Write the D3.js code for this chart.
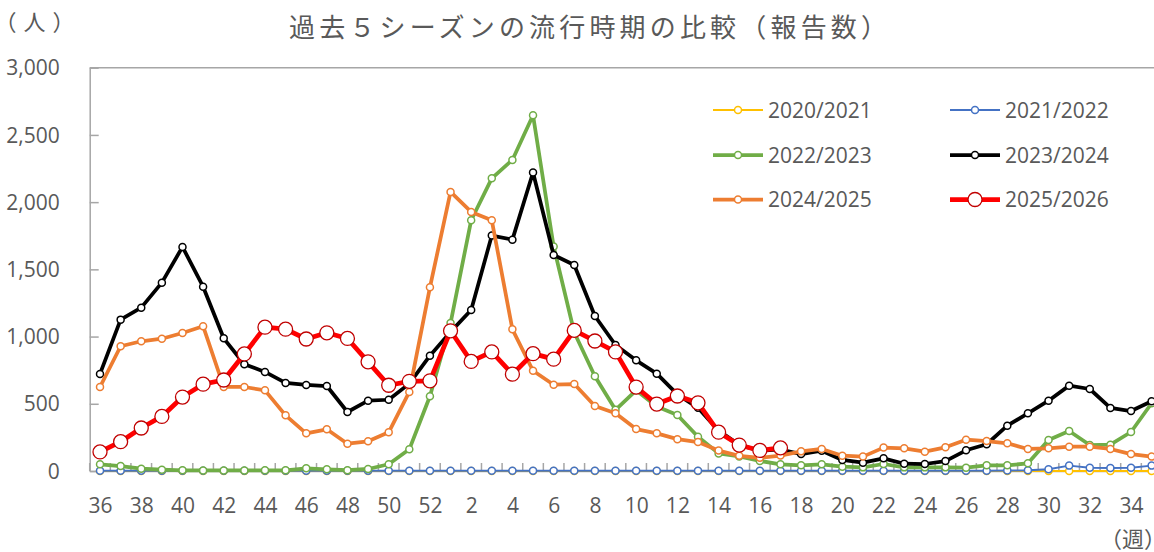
<!DOCTYPE html>
<html><head><meta charset="utf-8">
<script src="https://cdn.jsdelivr.net/npm/d3@7"></script>
<style>
html,body{margin:0;padding:0;background:#fff;overflow:hidden}
svg{display:block}
</style></head>
<body><svg id="c" width="1154" height="552"></svg>
<script>
const weeks = [36,37,38,39,40,41,42,43,44,45,46,47,48,49,50,51,52,1,2,3,4,5,6,7,8,9,10,11,12,13,14,15,16,17,18,19,20,21,22,23,24,25,26,27,28,29,30,31,32,33,34,35];
const tickWeeks = [36,38,40,42,44,46,48,50,52,2,4,6,8,10,12,14,16,18,20,22,24,26,28,30,32,34];
const yTicks = [0,500,1000,1500,2000,2500,3000];
const seriesNames = ["2020/2021","2021/2022","2022/2023","2023/2024","2024/2025","2025/2026"];

const s2020 = [0,0,0,0,0,0,0,0,0,0,0,0,0,0,0,0,0,0,0,0,0,0,0,0,0,0,0,0,0,0,0,0,0,0,0,0,0,0,0,0,0,0,0,0,0,0,0,0,0,0,0,0];
const s2021 = [1,1,1,1,1,1,1,1,1,1,1,1,1,1,1,1,1,1,1,1,1,1,1,1,1,1,1,1,1,1,1,1,1,1,2,2,2,2,2,2,2,2,2,2,3,6,13,40,25,22,25,40];
const s2022 = [50,37,17,10,5,4,4,4,5,5,20,13,6,15,50,161,556,1100,1865,2177,2314,2646,1670,1030,705,455,600,480,417,255,131,108,75,50,42,50,32,27,52,27,27,27,25,42,42,57,231,298,193,196,290,504];
const s2023 = [722,1126,1215,1401,1667,1371,987,794,737,655,640,632,439,523,530,650,858,1035,1198,1751,1721,2220,1607,1532,1153,937,823,724,570,470,300,195,150,160,126,151,82,62,94,54,52,74,154,199,337,429,523,635,610,469,446,519];
const s2024 = [625,928,965,984,1027,1077,625,625,600,414,280,310,203,221,288,588,1366,2076,1927,1865,1054,746,642,647,484,429,312,280,237,215,152,113,98,115,146,164,114,107,174,169,144,176,233,223,206,164,169,181,181,164,126,107];
const s2025 = [142,218,320,406,550,646,677,871,1070,1055,982,1028,986,812,638,667,671,1043,815,886,720,873,832,1046,967,886,624,498,558,507,289,193,153,172,null,null,null,null,null,null,null,null,null,null,null,null,null,null,null,null,null,null];

const seriesValues = [s2020,s2021,s2022,s2023,s2024,s2025];
const seriesColors = ["#FFC000","#4472C4","#70AD47","#000000","#ED7D31","#FF0000"];
const markerStroke = ["#FFC000","#4472C4","#70AD47","#000000","#ED7D31","#C00000"];
const lineWidths = [2,2,3.75,3.75,3.75,4.75];
const markerR = [3.5,3.5,3.5,3.5,3.5,7];

const svg = d3.select("#c");
const txt = "#595959";
const numFont = "'Open Sans', 'Noto Sans', sans-serif";
const jpFont = "'Noto Sans CJK JP', sans-serif";

const pLeft = 89.7, pTop = 67.7, pBottom = 471, pRight = 89.7 + 52*20.62;
const x = d3.scalePoint().domain(weeks).range([pLeft, pRight]).padding(0.5);
const xb = d3.scaleBand().domain(weeks).range([pLeft, pRight]);
const y = d3.scaleLinear().domain([0,3000]).range([pBottom, pTop]);

// title
svg.append("text").attr("x", 588).attr("y", 37).attr("text-anchor","middle")
  .attr("font-family", jpFont).attr("font-size", 26).attr("fill", txt)
  .attr("textLength", 598).attr("lengthAdjust","spacing")
  .text("過去５シーズンの流行時期の比較（報告数）");
svg.append("text").attr("x", -5.5).attr("y", 30)
  .attr("font-family", jpFont).attr("font-size", 22).attr("fill", txt)
  .attr("letter-spacing", 7)
  .text("（人）");
svg.append("text").attr("x", 1100).attr("y", 547)
  .attr("font-family", jpFont).attr("font-size", 22).attr("fill", txt)
  .text("（週）");

// top border
svg.append("line").attr("x1", pLeft).attr("x2", pRight).attr("y1", y(3000)).attr("y2", y(3000))
  .attr("stroke", "#A6A6A6").attr("stroke-width", 1.5);

// y axis
const ya = svg.append("g").attr("transform", `translate(${pLeft},0)`)
  .call(d3.axisLeft(y).tickValues(yTicks).tickFormat(d3.format(",")).tickSizeInner(-9).tickSizeOuter(0).tickPadding(30));
ya.select(".domain").attr("stroke", "#A6A6A6").attr("stroke-width", 1.5);
ya.selectAll(".tick line").attr("stroke", "#A6A6A6").attr("stroke-width", 1.5);
ya.selectAll(".tick text").attr("font-family", numFont).attr("font-size", 21).attr("fill", txt).attr("dy","0.34em");

// x axis
const xa = svg.append("g").attr("transform", `translate(0,${pBottom})`)
  .call(d3.axisBottom(x).tickValues(tickWeeks).tickSize(0).tickPadding(0));
xa.select(".domain").attr("stroke", "#A6A6A6").attr("stroke-width", 1.5);
xa.selectAll(".tick text").attr("font-family", numFont).attr("font-size", 21).attr("fill", txt)
  .attr("y", 42).attr("dy", "0");
svg.append("g").selectAll("line").data(weeks.concat(["end"])).join("line")
  .attr("x1", d => d === "end" ? pRight : xb(d)).attr("x2", d => d === "end" ? pRight : xb(d))
  .attr("y1", pBottom - 8).attr("y2", pBottom)
  .attr("stroke", "#A6A6A6").attr("stroke-width", 1.5);

// series
const line = d3.line().defined(d => d.v != null).x(d => x(d.w)).y(d => y(d.v));
seriesValues.forEach((vals, k) => {
  const pts = vals.map((v, i) => ({w: weeks[i], v}));
  const g = svg.append("g");
  g.append("path").datum(pts).attr("d", line).attr("fill","none")
    .attr("stroke", seriesColors[k]).attr("stroke-width", lineWidths[k]).attr("stroke-linejoin","round");
  g.selectAll("circle").data(pts.filter(d => d.v != null)).join("circle")
    .attr("cx", d => x(d.w)).attr("cy", d => y(d.v)).attr("r", markerR[k])
    .attr("fill", "#fff").attr("stroke", markerStroke[k]).attr("stroke-width", k === 5 ? 1.3 : 1.5);
});

// legend
const legX = [713, 950], legY = [110, 155, 199.5];
const leg = svg.append("g");
seriesNames.forEach((name, k) => {
  const lx = legX[k % 2], ly = legY[Math.floor(k/2)];
  leg.append("line").attr("x1", lx).attr("x2", lx + 50).attr("y1", ly).attr("y2", ly)
    .attr("stroke", seriesColors[k]).attr("stroke-width", lineWidths[k]);
  leg.append("circle").attr("cx", lx + 25).attr("cy", ly).attr("r", markerR[k])
    .attr("fill","#fff").attr("stroke", markerStroke[k]).attr("stroke-width", k === 5 ? 1.3 : 1.5);
  leg.append("text").attr("x", lx + 55).attr("y", ly + 7.6)
    .attr("font-family", numFont).attr("font-size", 21).attr("fill", txt).text(name);
});
</script></body></html>
